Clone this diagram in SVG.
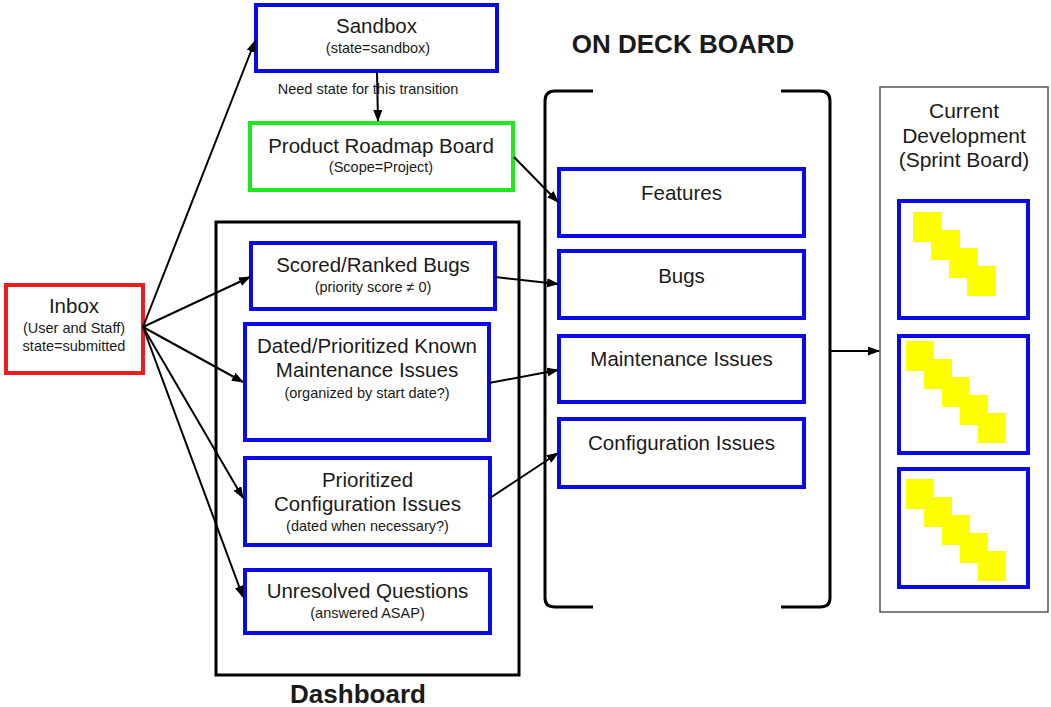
<svg xmlns="http://www.w3.org/2000/svg" width="1051" height="707" viewBox="0 0 1051 707">
<defs>
<marker id="ah" markerUnits="userSpaceOnUse" markerWidth="12" markerHeight="10" refX="11" refY="4.5" orient="auto">
<path d="M0,0 L12,4.5 L0,9 z" fill="#000"/>
</marker>
<style>
text{font-family:"Liberation Sans",Arial,sans-serif;fill:#1a1a1a;text-anchor:middle}
.t{font-size:20.5px}
.s{font-size:14.5px}
.b{font-size:26px;font-weight:bold}
.blue{fill:#fff;stroke:#0a0ae8;stroke-width:4}
.green{fill:#fff;stroke:#1ee81e;stroke-width:4}
.red{fill:#fff;stroke:#ee1c1c;stroke-width:4}
.sq{fill:#ffff00}
.c{fill:none;stroke:#000;stroke-width:2;marker-end:url(#ah)}
</style>
</defs>
<rect width="1051" height="707" fill="#fff"/>

<g id="dashboard">
<rect x="216" y="222" width="303" height="453" fill="none" stroke="#000" stroke-width="3"/>
<text class="b" x="358" y="703">Dashboard</text>
</g>

<g id="ondeck">
<text class="b" x="683" y="53">ON DECK BOARD</text>
<path d="M593,91 L555,91 Q545,91 545,101 L545,598 Q545,607 555,607 L593,607" fill="none" stroke="#000" stroke-width="3"/>
<path d="M781,91 L820,91 Q830,91 830,101 L830,598 Q830,607 820,607 L781,607" fill="none" stroke="#000" stroke-width="3"/>
</g>

<g id="sandbox">
<rect class="blue" x="256" y="5" width="241" height="66"/>
<text class="t" x="376.5" y="33">Sandbox</text>
<text class="s" x="378" y="53">(state=sandbox)</text>
</g>

<g id="roadmap">
<rect class="green" x="250" y="123" width="263" height="67"/>
<text class="t" x="381" y="153">Product Roadmap Board</text>
<text class="s" x="381" y="172">(Scope=Project)</text>
</g>

<g id="inbox">
<rect class="red" x="6" y="285" width="137" height="88"/>
<text class="t" x="74" y="313">Inbox</text>
<text class="s" x="74" y="333">(User and Staff)</text>
<text class="s" x="74" y="351">state=submitted</text>
</g>

<g id="scored">
<rect class="blue" x="251" y="243" width="244" height="66"/>
<text class="t" x="373" y="272">Scored/Ranked Bugs</text>
<text class="s" x="373" y="292">(priority score ≠ 0)</text>
</g>

<g id="dated">
<rect class="blue" x="245" y="324" width="244" height="116"/>
<text class="t" x="367" y="353">Dated/Prioritized Known</text>
<text class="t" x="367" y="377">Maintenance Issues</text>
<text class="s" x="367" y="398">(organized by start date?)</text>
</g>

<g id="config">
<rect class="blue" x="245" y="458" width="245" height="87"/>
<text class="t" x="367.5" y="487">Prioritized</text>
<text class="t" x="367.5" y="511">Configuration Issues</text>
<text class="s" x="367.5" y="531">(dated when necessary?)</text>
</g>

<g id="unresolved">
<rect class="blue" x="245" y="570" width="245" height="63"/>
<text class="t" x="367.5" y="598">Unresolved Questions</text>
<text class="s" x="367.5" y="618">(answered ASAP)</text>
</g>

<g id="features">
<rect class="blue" x="559" y="169" width="245" height="67"/>
<text class="t" x="681.5" y="200">Features</text>
</g>
<g id="bugs">
<rect class="blue" x="559" y="251" width="245" height="67"/>
<text class="t" x="681.5" y="283">Bugs</text>
</g>
<g id="maintenance">
<rect class="blue" x="559" y="336" width="245" height="66"/>
<text class="t" x="681.5" y="366">Maintenance Issues</text>
</g>
<g id="configuration">
<rect class="blue" x="559" y="419" width="245" height="68"/>
<text class="t" x="681.5" y="450">Configuration Issues</text>
</g>

<g id="sprint">
<rect x="880" y="87" width="168" height="525" fill="#fff" stroke="#555" stroke-width="1.5"/>
<text x="964" y="118" style="font-size:21px">Current</text>
<text x="964" y="143" style="font-size:21px">Development</text>
<text x="964" y="167" style="font-size:21px">(Sprint Board)</text>
</g>

<g id="card1">
<rect class="blue" x="899" y="201" width="129" height="117"/>
<rect class="sq" x="913" y="212" width="29" height="30"/>
<rect class="sq" x="931" y="230" width="29" height="30"/>
<rect class="sq" x="949" y="248" width="29" height="30"/>
<rect class="sq" x="967" y="266" width="29" height="30"/>
</g>
<g id="card2">
<rect class="blue" x="899" y="336" width="129" height="117"/>
<rect class="sq" x="906" y="341" width="28" height="30"/>
<rect class="sq" x="924" y="359" width="28" height="30"/>
<rect class="sq" x="942" y="377" width="28" height="30"/>
<rect class="sq" x="960" y="395" width="28" height="30"/>
<rect class="sq" x="978" y="413" width="28" height="30"/>
</g>
<g id="card3">
<rect class="blue" x="899" y="469" width="129" height="118"/>
<rect class="sq" x="906" y="479" width="28" height="30"/>
<rect class="sq" x="924" y="497" width="28" height="30"/>
<rect class="sq" x="942" y="515" width="28" height="30"/>
<rect class="sq" x="960" y="533" width="28" height="30"/>
<rect class="sq" x="978" y="551" width="28" height="30"/>
</g>

<g id="connectors">
<line class="c" x1="143" y1="327" x2="255" y2="41"/>
<line class="c" x1="377" y1="72" x2="378" y2="121"/>
<text class="s" x="368" y="94">Need state for this transition</text>
<line class="c" x1="143" y1="327" x2="250" y2="277"/>
<line class="c" x1="143" y1="327" x2="243" y2="382"/>
<line class="c" x1="143" y1="327" x2="243" y2="498"/>
<line class="c" x1="143" y1="327" x2="243" y2="597"/>
<line class="c" x1="514" y1="157" x2="558" y2="202"/>
<line class="c" x1="495" y1="277" x2="558" y2="284"/>
<line class="c" x1="489" y1="383" x2="558" y2="370"/>
<line class="c" x1="490" y1="498" x2="558" y2="453"/>
<line class="c" x1="831" y1="351" x2="879" y2="351"/>
</g>
</svg>
